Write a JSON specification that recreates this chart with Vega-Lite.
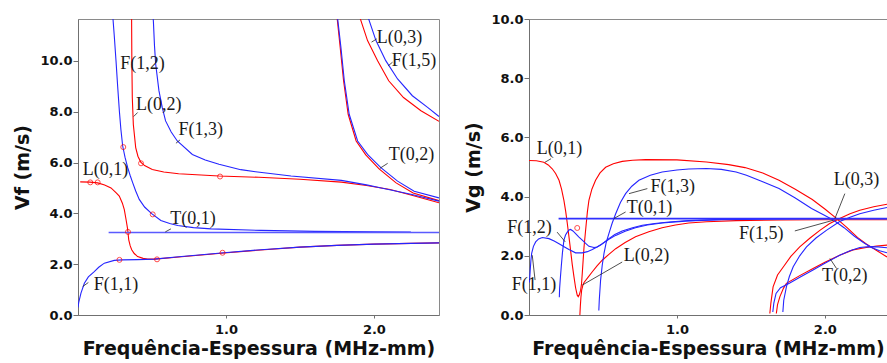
{
  "$schema": "https://vega.github.io/schema/vega-lite/v6.json",
  "padding": {"left": 13, "top": 12, "right": 0, "bottom": 0},
  "spacing": 24,
  "background": "white",
  "config": {
    "view": {"stroke": "#8a8a8a", "strokeWidth": 1},
    "axis": {
      "labelFont": "DejaVu Sans", "labelFontWeight": "bold", "labelFontSize": 13, "labelColor": "#111",
      "titleFont": "DejaVu Sans", "titleFontWeight": "bold", "titleFontSize": 19, "titleColor": "#111",
      "grid": false, "domainColor": "#707070", "tickColor": "#707070", "tickSize": 5
    },
    "axisX": {"labelPadding": 5, "tickSize": 3, "titlePadding": 3},
    "axisY": {"labelPadding": 1, "titlePadding": 7}
  },
  "datasets": {
    "vf": [
      {"s":"F11","c":"b","x":0.0,"y":0.3},{"s":"F11","c":"b","x":0.005,"y":0.5},{"s":"F11","c":"b","x":0.02,"y":0.86},{"s":"F11","c":"b","x":0.043,"y":1.25},{"s":"F11","c":"b","x":0.07,"y":1.5},{"s":"F11","c":"b","x":0.11,"y":1.71},{"s":"F11","c":"b","x":0.14,"y":1.88},{"s":"F11","c":"b","x":0.178,"y":2.04},{"s":"F11","c":"b","x":0.245,"y":2.15},{"s":"F11","c":"b","x":0.3,"y":2.17},{"s":"F11","c":"b","x":0.4,"y":2.18},{"s":"F11","c":"b","x":0.515,"y":2.2},{"s":"F11","c":"b","x":0.7,"y":2.3},{"s":"F11","c":"b","x":0.966,"y":2.44},{"s":"F11","c":"b","x":1.236,"y":2.57},{"s":"F11","c":"b","x":1.5,"y":2.67},{"s":"F11","c":"b","x":1.75,"y":2.74},{"s":"F11","c":"b","x":2.0,"y":2.79},{"s":"F11","c":"b","x":2.25,"y":2.82},{"s":"F11","c":"b","x":2.44,"y":2.84},
      {"s":"T01","c":"t","x":0.207,"y":3.245},{"s":"T01","c":"t","x":2.44,"y":3.245},
      {"s":"F12","c":"b","x":0.232,"y":12.0},{"s":"F12","c":"b","x":0.245,"y":11.0},{"s":"F12","c":"b","x":0.257,"y":10.0},{"s":"F12","c":"b","x":0.268,"y":9.0},{"s":"F12","c":"b","x":0.28,"y":8.0},{"s":"F12","c":"b","x":0.29,"y":7.3},{"s":"F12","c":"b","x":0.302,"y":6.65},{"s":"F12","c":"b","x":0.318,"y":6.2},{"s":"F12","c":"b","x":0.336,"y":5.8},{"s":"F12","c":"b","x":0.352,"y":5.5},{"s":"F12","c":"b","x":0.37,"y":5.2},{"s":"F12","c":"b","x":0.39,"y":4.88},{"s":"F12","c":"b","x":0.414,"y":4.55},{"s":"F12","c":"b","x":0.45,"y":4.25},{"s":"F12","c":"b","x":0.498,"y":3.99},{"s":"F12","c":"b","x":0.56,"y":3.72},{"s":"F12","c":"b","x":0.62,"y":3.6},{"s":"F12","c":"b","x":0.674,"y":3.52},{"s":"F12","c":"b","x":0.78,"y":3.44},{"s":"F12","c":"b","x":0.9,"y":3.39},{"s":"F12","c":"b","x":1.236,"y":3.33},{"s":"F12","c":"b","x":1.6,"y":3.29},{"s":"F12","c":"b","x":2.0,"y":3.27},{"s":"F12","c":"b","x":2.25,"y":3.265},
      {"s":"F13","c":"b","x":0.505,"y":12.0},{"s":"F13","c":"b","x":0.51,"y":11.5},{"s":"F13","c":"b","x":0.517,"y":10.6},{"s":"F13","c":"b","x":0.525,"y":9.88},{"s":"F13","c":"b","x":0.547,"y":8.83},{"s":"F13","c":"b","x":0.57,"y":8.15},{"s":"F13","c":"b","x":0.592,"y":7.64},{"s":"F13","c":"b","x":0.63,"y":7.2},{"s":"F13","c":"b","x":0.671,"y":6.85},{"s":"F13","c":"b","x":0.773,"y":6.32},{"s":"F13","c":"b","x":0.86,"y":6.1},{"s":"F13","c":"b","x":0.953,"y":5.93},{"s":"F13","c":"b","x":1.1,"y":5.72},{"s":"F13","c":"b","x":1.2,"y":5.64},{"s":"F13","c":"b","x":1.44,"y":5.47},{"s":"F13","c":"b","x":1.78,"y":5.3},{"s":"F13","c":"b","x":1.95,"y":5.12},{"s":"F13","c":"b","x":2.05,"y":5.0},{"s":"F13","c":"b","x":2.25,"y":4.75},{"s":"F13","c":"b","x":2.44,"y":4.48},
      {"s":"F15","c":"b","x":1.945,"y":12.0},{"s":"F15","c":"b","x":1.964,"y":11.66},{"s":"F15","c":"b","x":2.014,"y":10.8},{"s":"F15","c":"b","x":2.08,"y":10.01},{"s":"F15","c":"b","x":2.16,"y":9.29},{"s":"F15","c":"b","x":2.26,"y":8.63},{"s":"F15","c":"b","x":2.363,"y":8.17},{"s":"F15","c":"b","x":2.44,"y":7.81},
      {"s":"T02b","c":"b","x":1.75,"y":12.0},{"s":"T02b","c":"b","x":1.755,"y":11.66},{"s":"T02b","c":"b","x":1.777,"y":10.54},{"s":"T02b","c":"b","x":1.8,"y":9.22},{"s":"T02b","c":"b","x":1.833,"y":7.9},{"s":"T02b","c":"b","x":1.89,"y":6.85},{"s":"T02b","c":"b","x":1.957,"y":6.32},{"s":"T02b","c":"b","x":2.047,"y":5.8},{"s":"T02b","c":"b","x":2.16,"y":5.27},{"s":"T02b","c":"b","x":2.272,"y":4.87},{"s":"T02b","c":"b","x":2.44,"y":4.61},
      {"s":"L01","c":"r","x":0.015,"y":5.24},{"s":"L01","c":"r","x":0.08,"y":5.23},{"s":"L01","c":"r","x":0.133,"y":5.2},{"s":"L01","c":"r","x":0.18,"y":5.12},{"s":"L01","c":"r","x":0.223,"y":5.0},{"s":"L01","c":"r","x":0.26,"y":4.8},{"s":"L01","c":"r","x":0.279,"y":4.68},{"s":"L01","c":"r","x":0.3,"y":4.4},{"s":"L01","c":"r","x":0.313,"y":4.15},{"s":"L01","c":"r","x":0.325,"y":3.75},{"s":"L01","c":"r","x":0.335,"y":3.4},{"s":"L01","c":"r","x":0.343,"y":2.96},{"s":"L01","c":"r","x":0.353,"y":2.72},{"s":"L01","c":"r","x":0.363,"y":2.57},{"s":"L01","c":"r","x":0.38,"y":2.42},{"s":"L01","c":"r","x":0.403,"y":2.3},{"s":"L01","c":"r","x":0.44,"y":2.23},{"s":"L01","c":"r","x":0.47,"y":2.2},{"s":"L01","c":"r","x":0.52,"y":2.2},{"s":"L01","c":"r","x":0.7,"y":2.29},{"s":"L01","c":"r","x":0.966,"y":2.43},{"s":"L01","c":"r","x":1.236,"y":2.56},{"s":"L01","c":"r","x":1.5,"y":2.67},{"s":"L01","c":"r","x":1.75,"y":2.74},{"s":"L01","c":"r","x":2.0,"y":2.79},{"s":"L01","c":"r","x":2.25,"y":2.82},{"s":"L01","c":"r","x":2.44,"y":2.84},
      {"s":"L02","c":"r","x":0.362,"y":12.0},{"s":"L02","c":"r","x":0.364,"y":10.0},{"s":"L02","c":"r","x":0.367,"y":8.56},{"s":"L02","c":"r","x":0.374,"y":7.5},{"s":"L02","c":"r","x":0.39,"y":6.59},{"s":"L02","c":"r","x":0.405,"y":6.25},{"s":"L02","c":"r","x":0.424,"y":6.02},{"s":"L02","c":"r","x":0.45,"y":5.88},{"s":"L02","c":"r","x":0.502,"y":5.73},{"s":"L02","c":"r","x":0.58,"y":5.63},{"s":"L02","c":"r","x":0.68,"y":5.56},{"s":"L02","c":"r","x":0.953,"y":5.47},{"s":"L02","c":"r","x":1.223,"y":5.42},{"s":"L02","c":"r","x":1.5,"y":5.34},{"s":"L02","c":"r","x":1.78,"y":5.23},{"s":"L02","c":"r","x":1.95,"y":5.1},{"s":"L02","c":"r","x":2.11,"y":4.94},{"s":"L02","c":"r","x":2.25,"y":4.72},{"s":"L02","c":"r","x":2.44,"y":4.42},
      {"s":"L03","c":"r","x":1.889,"y":12.0},{"s":"L03","c":"r","x":1.908,"y":11.66},{"s":"L03","c":"r","x":1.957,"y":10.8},{"s":"L03","c":"r","x":2.025,"y":10.01},{"s":"L03","c":"r","x":2.1,"y":9.22},{"s":"L03","c":"r","x":2.2,"y":8.56},{"s":"L03","c":"r","x":2.318,"y":8.04},{"s":"L03","c":"r","x":2.44,"y":7.62},
      {"s":"T02r","c":"r","x":1.747,"y":12.0},{"s":"T02r","c":"r","x":1.752,"y":11.66},{"s":"T02r","c":"r","x":1.772,"y":10.54},{"s":"T02r","c":"r","x":1.795,"y":9.22},{"s":"T02r","c":"r","x":1.826,"y":7.9},{"s":"T02r","c":"r","x":1.88,"y":6.85},{"s":"T02r","c":"r","x":1.945,"y":6.3},{"s":"T02r","c":"r","x":2.035,"y":5.75},{"s":"T02r","c":"r","x":2.15,"y":5.2},{"s":"T02r","c":"r","x":2.265,"y":4.8},{"s":"T02r","c":"r","x":2.44,"y":4.5}
    ],
    "vg": [
      {"s":"T01","c":"t","x":0.2,"y":3.255},{"s":"T01","c":"t","x":2.42,"y":3.255},
      {"s":"F11","c":"b","x":0.003,"y":1.1},{"s":"F11","c":"b","x":0.008,"y":1.5},{"s":"F11","c":"b","x":0.013,"y":1.85},{"s":"F11","c":"b","x":0.018,"y":2.08},{"s":"F11","c":"b","x":0.03,"y":2.32},{"s":"F11","c":"b","x":0.045,"y":2.47},{"s":"F11","c":"b","x":0.065,"y":2.57},{"s":"F11","c":"b","x":0.09,"y":2.62},{"s":"F11","c":"b","x":0.135,"y":2.58},{"s":"F11","c":"b","x":0.17,"y":2.5},{"s":"F11","c":"b","x":0.203,"y":2.41},{"s":"F11","c":"b","x":0.24,"y":2.3},{"s":"F11","c":"b","x":0.27,"y":2.21},{"s":"F11","c":"b","x":0.315,"y":2.1},{"s":"F11","c":"b","x":0.36,"y":2.1},{"s":"F11","c":"b","x":0.395,"y":2.14},{"s":"F11","c":"b","x":0.428,"y":2.21},{"s":"F11","c":"b","x":0.46,"y":2.3},{"s":"F11","c":"b","x":0.495,"y":2.41},{"s":"F11","c":"b","x":0.54,"y":2.56},{"s":"F11","c":"b","x":0.586,"y":2.69},{"s":"F11","c":"b","x":0.65,"y":2.83},{"s":"F11","c":"b","x":0.72,"y":2.95},{"s":"F11","c":"b","x":0.8,"y":3.04},{"s":"F11","c":"b","x":0.9,"y":3.11},{"s":"F11","c":"b","x":1.08,"y":3.18},{"s":"F11","c":"b","x":1.3,"y":3.22},{"s":"F11","c":"b","x":1.6,"y":3.24},{"s":"F11","c":"b","x":2.0,"y":3.25},{"s":"F11","c":"b","x":2.42,"y":3.255},
      {"s":"F12","c":"b","x":0.205,"y":0.6},{"s":"F12","c":"b","x":0.207,"y":0.9},{"s":"F12","c":"b","x":0.212,"y":1.25},{"s":"F12","c":"b","x":0.218,"y":1.63},{"s":"F12","c":"b","x":0.226,"y":2.1},{"s":"F12","c":"b","x":0.236,"y":2.53},{"s":"F12","c":"b","x":0.247,"y":2.7},{"s":"F12","c":"b","x":0.259,"y":2.8},{"s":"F12","c":"b","x":0.27,"y":2.87},{"s":"F12","c":"b","x":0.281,"y":2.89},{"s":"F12","c":"b","x":0.297,"y":2.84},{"s":"F12","c":"b","x":0.315,"y":2.75},{"s":"F12","c":"b","x":0.336,"y":2.64},{"s":"F12","c":"b","x":0.36,"y":2.53},{"s":"F12","c":"b","x":0.383,"y":2.42},{"s":"F12","c":"b","x":0.405,"y":2.32},{"s":"F12","c":"b","x":0.439,"y":2.28},{"s":"F12","c":"b","x":0.46,"y":2.3},{"s":"F12","c":"b","x":0.484,"y":2.36},{"s":"F12","c":"b","x":0.51,"y":2.46},{"s":"F12","c":"b","x":0.54,"y":2.58},{"s":"F12","c":"b","x":0.58,"y":2.72},{"s":"F12","c":"b","x":0.63,"y":2.84},{"s":"F12","c":"b","x":0.7,"y":2.95},{"s":"F12","c":"b","x":0.766,"y":3.03},{"s":"F12","c":"b","x":0.85,"y":3.09},{"s":"F12","c":"b","x":0.946,"y":3.14},{"s":"F12","c":"b","x":1.08,"y":3.19},{"s":"F12","c":"b","x":1.3,"y":3.23},{"s":"F12","c":"b","x":1.6,"y":3.25},{"s":"F12","c":"b","x":2.0,"y":3.26},{"s":"F12","c":"b","x":2.42,"y":3.26},
      {"s":"F13","c":"b","x":0.472,"y":0.15},{"s":"F13","c":"b","x":0.475,"y":0.5},{"s":"F13","c":"b","x":0.484,"y":1.18},{"s":"F13","c":"b","x":0.495,"y":1.68},{"s":"F13","c":"b","x":0.507,"y":2.08},{"s":"F13","c":"b","x":0.522,"y":2.45},{"s":"F13","c":"b","x":0.54,"y":2.75},{"s":"F13","c":"b","x":0.562,"y":3.1},{"s":"F13","c":"b","x":0.586,"y":3.42},{"s":"F13","c":"b","x":0.618,"y":3.8},{"s":"F13","c":"b","x":0.653,"y":4.1},{"s":"F13","c":"b","x":0.695,"y":4.35},{"s":"F13","c":"b","x":0.743,"y":4.55},{"s":"F13","c":"b","x":0.82,"y":4.72},{"s":"F13","c":"b","x":0.9,"y":4.83},{"s":"F13","c":"b","x":1.0,"y":4.9},{"s":"F13","c":"b","x":1.08,"y":4.93},{"s":"F13","c":"b","x":1.2,"y":4.95},{"s":"F13","c":"b","x":1.3,"y":4.92},{"s":"F13","c":"b","x":1.4,"y":4.83},{"s":"F13","c":"b","x":1.47,"y":4.72},{"s":"F13","c":"b","x":1.58,"y":4.5},{"s":"F13","c":"b","x":1.69,"y":4.27},{"s":"F13","c":"b","x":1.8,"y":3.95},{"s":"F13","c":"b","x":1.91,"y":3.6},{"s":"F13","c":"b","x":2.0,"y":3.36},{"s":"F13","c":"b","x":2.06,"y":3.2},{"s":"F13","c":"b","x":2.13,"y":2.95},{"s":"F13","c":"b","x":2.2,"y":2.66},{"s":"F13","c":"b","x":2.26,"y":2.45},{"s":"F13","c":"b","x":2.315,"y":2.28},{"s":"F13","c":"b","x":2.37,"y":2.17},{"s":"F13","c":"b","x":2.42,"y":2.1},
      {"s":"F15","c":"b","x":1.716,"y":0.1},{"s":"F15","c":"b","x":1.722,"y":0.5},{"s":"F15","c":"b","x":1.74,"y":0.95},{"s":"F15","c":"b","x":1.76,"y":1.3},{"s":"F15","c":"b","x":1.786,"y":1.63},{"s":"F15","c":"b","x":1.83,"y":2.0},{"s":"F15","c":"b","x":1.876,"y":2.3},{"s":"F15","c":"b","x":1.94,"y":2.6},{"s":"F15","c":"b","x":2.01,"y":2.86},{"s":"F15","c":"b","x":2.1,"y":3.16},{"s":"F15","c":"b","x":2.17,"y":3.3},{"s":"F15","c":"b","x":2.236,"y":3.42},{"s":"F15","c":"b","x":2.33,"y":3.54},{"s":"F15","c":"b","x":2.42,"y":3.63},
      {"s":"T02b","c":"b","x":1.648,"y":0.1},{"s":"T02b","c":"b","x":1.655,"y":0.4},{"s":"T02b","c":"b","x":1.67,"y":0.73},{"s":"T02b","c":"b","x":1.7,"y":0.92},{"s":"T02b","c":"b","x":1.76,"y":1.07},{"s":"T02b","c":"b","x":1.84,"y":1.3},{"s":"T02b","c":"b","x":1.92,"y":1.52},{"s":"T02b","c":"b","x":2.0,"y":1.75},{"s":"T02b","c":"b","x":2.1,"y":2.02},{"s":"T02b","c":"b","x":2.17,"y":2.17},{"s":"T02b","c":"b","x":2.236,"y":2.28},{"s":"T02b","c":"b","x":2.3,"y":2.31},{"s":"T02b","c":"b","x":2.36,"y":2.3},{"s":"T02b","c":"b","x":2.42,"y":2.27},
      {"s":"L01","c":"r","x":0.0,"y":5.22},{"s":"L01","c":"r","x":0.05,"y":5.21},{"s":"L01","c":"r","x":0.1,"y":5.16},{"s":"L01","c":"r","x":0.13,"y":5.07},{"s":"L01","c":"r","x":0.157,"y":4.94},{"s":"L01","c":"r","x":0.18,"y":4.78},{"s":"L01","c":"r","x":0.203,"y":4.55},{"s":"L01","c":"r","x":0.22,"y":4.25},{"s":"L01","c":"r","x":0.236,"y":3.87},{"s":"L01","c":"r","x":0.248,"y":3.5},{"s":"L01","c":"r","x":0.259,"y":3.09},{"s":"L01","c":"r","x":0.27,"y":2.65},{"s":"L01","c":"r","x":0.281,"y":2.19},{"s":"L01","c":"r","x":0.292,"y":1.72},{"s":"L01","c":"r","x":0.304,"y":1.29},{"s":"L01","c":"r","x":0.315,"y":0.92},{"s":"L01","c":"r","x":0.326,"y":0.67},{"s":"L01","c":"r","x":0.333,"y":0.62},{"s":"L01","c":"r","x":0.34,"y":0.68},{"s":"L01","c":"r","x":0.349,"y":0.84},{"s":"L01","c":"r","x":0.355,"y":1.05},{"s":"L01","c":"r","x":0.36,"y":1.4},{"s":"L01","c":"r","x":0.366,"y":1.85},{"s":"L01","c":"r","x":0.372,"y":2.3},{"s":"L01","c":"r","x":0.38,"y":2.72},{"s":"L01","c":"r","x":0.387,"y":3.09},{"s":"L01","c":"r","x":0.395,"y":3.5},{"s":"L01","c":"r","x":0.405,"y":3.87},{"s":"L01","c":"r","x":0.425,"y":4.25},{"s":"L01","c":"r","x":0.45,"y":4.55},{"s":"L01","c":"r","x":0.48,"y":4.8},{"s":"L01","c":"r","x":0.518,"y":4.99},{"s":"L01","c":"r","x":0.57,"y":5.11},{"s":"L01","c":"r","x":0.63,"y":5.19},{"s":"L01","c":"r","x":0.7,"y":5.23},{"s":"L01","c":"r","x":0.788,"y":5.25},{"s":"L01","c":"r","x":1.0,"y":5.24},{"s":"L01","c":"r","x":1.2,"y":5.17},{"s":"L01","c":"r","x":1.35,"y":5.08},{"s":"L01","c":"r","x":1.46,"y":4.98},{"s":"L01","c":"r","x":1.58,"y":4.8},{"s":"L01","c":"r","x":1.69,"y":4.55},{"s":"L01","c":"r","x":1.8,"y":4.25},{"s":"L01","c":"r","x":1.915,"y":3.9},{"s":"L01","c":"r","x":2.0,"y":3.58},{"s":"L01","c":"r","x":2.07,"y":3.3},{"s":"L01","c":"r","x":2.15,"y":2.95},{"s":"L01","c":"r","x":2.22,"y":2.62},{"s":"L01","c":"r","x":2.28,"y":2.4},{"s":"L01","c":"r","x":2.35,"y":2.18},{"s":"L01","c":"r","x":2.42,"y":1.96},
      {"s":"L02","c":"r","x":0.344,"y":0.0},{"s":"L02","c":"r","x":0.347,"y":0.3},{"s":"L02","c":"r","x":0.351,"y":0.6},{"s":"L02","c":"r","x":0.356,"y":0.84},{"s":"L02","c":"r","x":0.364,"y":1.0},{"s":"L02","c":"r","x":0.372,"y":1.1},{"s":"L02","c":"r","x":0.4,"y":1.28},{"s":"L02","c":"r","x":0.428,"y":1.46},{"s":"L02","c":"r","x":0.46,"y":1.66},{"s":"L02","c":"r","x":0.495,"y":1.85},{"s":"L02","c":"r","x":0.54,"y":2.05},{"s":"L02","c":"r","x":0.586,"y":2.24},{"s":"L02","c":"r","x":0.65,"y":2.45},{"s":"L02","c":"r","x":0.72,"y":2.64},{"s":"L02","c":"r","x":0.81,"y":2.81},{"s":"L02","c":"r","x":0.9,"y":2.95},{"s":"L02","c":"r","x":0.99,"y":3.04},{"s":"L02","c":"r","x":1.08,"y":3.11},{"s":"L02","c":"r","x":1.2,"y":3.15},{"s":"L02","c":"r","x":1.4,"y":3.19},{"s":"L02","c":"r","x":1.7,"y":3.21},{"s":"L02","c":"r","x":2.0,"y":3.22},{"s":"L02","c":"r","x":2.42,"y":3.22},
      {"s":"L03","c":"r","x":1.628,"y":0.05},{"s":"L03","c":"r","x":1.635,"y":0.4},{"s":"L03","c":"r","x":1.65,"y":0.95},{"s":"L03","c":"r","x":1.68,"y":1.35},{"s":"L03","c":"r","x":1.72,"y":1.63},{"s":"L03","c":"r","x":1.77,"y":1.98},{"s":"L03","c":"r","x":1.83,"y":2.3},{"s":"L03","c":"r","x":1.9,"y":2.6},{"s":"L03","c":"r","x":1.966,"y":2.86},{"s":"L03","c":"r","x":2.03,"y":3.08},{"s":"L03","c":"r","x":2.1,"y":3.26},{"s":"L03","c":"r","x":2.17,"y":3.42},{"s":"L03","c":"r","x":2.236,"y":3.54},{"s":"L03","c":"r","x":2.33,"y":3.66},{"s":"L03","c":"r","x":2.42,"y":3.74},
      {"s":"T02r","c":"r","x":1.672,"y":0.05},{"s":"T02r","c":"r","x":1.68,"y":0.35},{"s":"T02r","c":"r","x":1.696,"y":0.62},{"s":"T02r","c":"r","x":1.72,"y":0.9},{"s":"T02r","c":"r","x":1.74,"y":1.07},{"s":"T02r","c":"r","x":1.83,"y":1.33},{"s":"T02r","c":"r","x":1.92,"y":1.57},{"s":"T02r","c":"r","x":2.0,"y":1.78},{"s":"T02r","c":"r","x":2.1,"y":2.02},{"s":"T02r","c":"r","x":2.19,"y":2.2},{"s":"T02r","c":"r","x":2.28,"y":2.28},{"s":"T02r","c":"r","x":2.35,"y":2.33},{"s":"T02r","c":"r","x":2.42,"y":2.36}
    ],
    "ptf": [
      {"x":0.083,"y":5.22},{"x":0.133,"y":5.22},{"x":0.306,"y":6.61},{"x":0.426,"y":5.97},{"x":0.96,"y":5.45},{"x":0.505,"y":3.96},{"x":0.338,"y":3.27},{"x":0.28,"y":2.17},{"x":0.534,"y":2.19},{"x":0.977,"y":2.45}
    ],
    "ptg": [{"x":0.326,"y":2.94}],
    "labf": [
      {"t":"F(1,2)","x":0.286,"y":9.88},{"t":"L(0,2)","x":0.392,"y":8.26},{"t":"F(1,3)","x":0.68,"y":7.27},{"t":"L(0,1)","x":0.032,"y":5.7},{"t":"T(0,1)","x":0.624,"y":3.79},{"t":"F(1,1)","x":0.106,"y":1.19},{"t":"L(0,3)","x":2.02,"y":10.9},{"t":"F(1,5)","x":2.12,"y":9.99},{"t":"T(0,2)","x":2.1,"y":6.28}
    ],
    "leadf": [
      {"x":0.376,"y":7.81,"x2":0.403,"y2":7.97},{"x":0.662,"y":6.76,"x2":0.689,"y2":6.89},{"x":0.59,"y":3.27,"x2":0.628,"y2":3.39},{"x":0.032,"y":1.12,"x2":0.07,"y2":1.28},{"x":1.984,"y":10.74,"x2":2.02,"y2":10.87},{"x":2.097,"y":9.81,"x2":2.126,"y2":9.95},{"x":2.04,"y":5.77,"x2":2.093,"y2":5.97}
    ],
    "labg": [
      {"t":"L(0,1)","x":0.052,"y":5.61},{"t":"F(1,3)","x":0.822,"y":4.34},{"t":"T(0,1)","x":0.66,"y":3.63},{"t":"F(1,2)","x":-0.147,"y":2.94},{"t":"L(0,2)","x":0.64,"y":2.0},{"t":"F(1,1)","x":-0.117,"y":1.01},{"t":"L(0,3)","x":2.06,"y":4.55},{"t":"F(1,5)","x":1.42,"y":2.75},{"t":"T(0,2)","x":1.98,"y":1.31}
    ],
    "leadg": [
      {"x":0.108,"y":5.16,"x2":0.149,"y2":5.28},{"x":0.676,"y":4.1,"x2":0.8,"y2":4.27},{"x":0.574,"y":3.26,"x2":0.653,"y2":3.48},{"x":0.19,"y":2.8,"x2":0.245,"y2":2.47},{"x":0.36,"y":1.01,"x2":0.63,"y2":1.79},{"x":0.022,"y":2.02,"x2":0.041,"y2":1.18},{"x":2.068,"y":3.26,"x2":2.135,"y2":4.1},{"x":1.797,"y":2.84,"x2":2.056,"y2":3.2},{"x":2.034,"y":1.91,"x2":2.079,"y2":1.57}
    ]
  },
  "hconcat": [
    {
      "width": 361,
      "height": 296,
      "encoding": {
        "x": {"field": "x", "type": "quantitative", "scale": {"domain": [0, 2.44], "nice": false, "zero": false}, "axis": {"values": [1, 2], "format": ".1f", "title": "Frequência-Espessura (MHz-mm)"}},
        "y": {"field": "y", "type": "quantitative", "scale": {"domain": [0, 11.65], "nice": false}, "axis": {"values": [0, 2, 4, 6, 8, 10], "format": ".1f", "title": "Vf (m/s)"}}
      },
      "layer": [
        {
          "data": {"name": "vf"},
          "transform": [{"filter": "datum.c === 'r'"}],
          "mark": {"type": "line", "clip": true, "strokeWidth": 1.1, "color": "#ff0000"},
          "encoding": {"detail": {"field": "s"}}
        },
        {
          "data": {"name": "vf"},
          "transform": [{"filter": "datum.c === 'b'"}],
          "mark": {"type": "line", "clip": true, "strokeWidth": 1.1, "color": "#2525ff"},
          "encoding": {"detail": {"field": "s"}}
        },
        {
          "data": {"name": "vf"},
          "transform": [{"filter": "datum.c === 't'"}],
          "mark": {"type": "line", "clip": true, "strokeWidth": 1.6, "color": "#5a5aff"},
          "encoding": {"detail": {"field": "s"}}
        },
        {
          "data": {"name": "ptf"},
          "mark": {"type": "point", "shape": "circle", "filled": false, "color": "#ff0000", "size": 25, "strokeWidth": 1},
          "encoding": {}
        },
        {
          "data": {"name": "leadf"},
          "mark": {"type": "rule", "color": "#222", "strokeWidth": 0.8},
          "encoding": {"x2": {"field": "x2"}, "y2": {"field": "y2"}}
        },
        {
          "data": {"name": "labf"},
          "mark": {"type": "text", "align": "left", "baseline": "middle", "font": "Liberation Serif", "fontSize": 18, "color": "#1a1a1a"},
          "encoding": {"text": {"field": "t"}}
        }
      ]
    },
    {
      "width": 358,
      "height": 296,
      "encoding": {
        "x": {"field": "x", "type": "quantitative", "scale": {"domain": [0, 2.42], "nice": false, "zero": false}, "axis": {"values": [1, 2], "format": ".1f", "title": "Frequência-Espessura (MHz-mm)"}},
        "y": {"field": "y", "type": "quantitative", "scale": {"domain": [0, 10], "nice": false}, "axis": {"values": [0, 2, 4, 6, 8, 10], "format": ".1f", "title": "Vg (m/s)"}}
      },
      "layer": [
        {
          "data": {"name": "vg"},
          "transform": [{"filter": "datum.c === 'r'"}],
          "mark": {"type": "line", "clip": true, "strokeWidth": 1.1, "color": "#ff0000"},
          "encoding": {"detail": {"field": "s"}}
        },
        {
          "data": {"name": "vg"},
          "transform": [{"filter": "datum.c === 'b'"}],
          "mark": {"type": "line", "clip": true, "strokeWidth": 1.1, "color": "#2525ff"},
          "encoding": {"detail": {"field": "s"}}
        },
        {
          "data": {"name": "vg"},
          "transform": [{"filter": "datum.c === 't'"}],
          "mark": {"type": "line", "clip": true, "strokeWidth": 1.6, "color": "#3030ff"},
          "encoding": {"detail": {"field": "s"}}
        },
        {
          "data": {"name": "ptg"},
          "mark": {"type": "point", "shape": "circle", "filled": false, "color": "#ff0000", "size": 25, "strokeWidth": 1},
          "encoding": {}
        },
        {
          "data": {"name": "leadg"},
          "mark": {"type": "rule", "color": "#222", "strokeWidth": 0.8},
          "encoding": {"x2": {"field": "x2"}, "y2": {"field": "y2"}}
        },
        {
          "data": {"name": "labg"},
          "mark": {"type": "text", "align": "left", "baseline": "middle", "font": "Liberation Serif", "fontSize": 18, "color": "#1a1a1a"},
          "encoding": {"text": {"field": "t"}}
        }
      ]
    }
  ]
}
